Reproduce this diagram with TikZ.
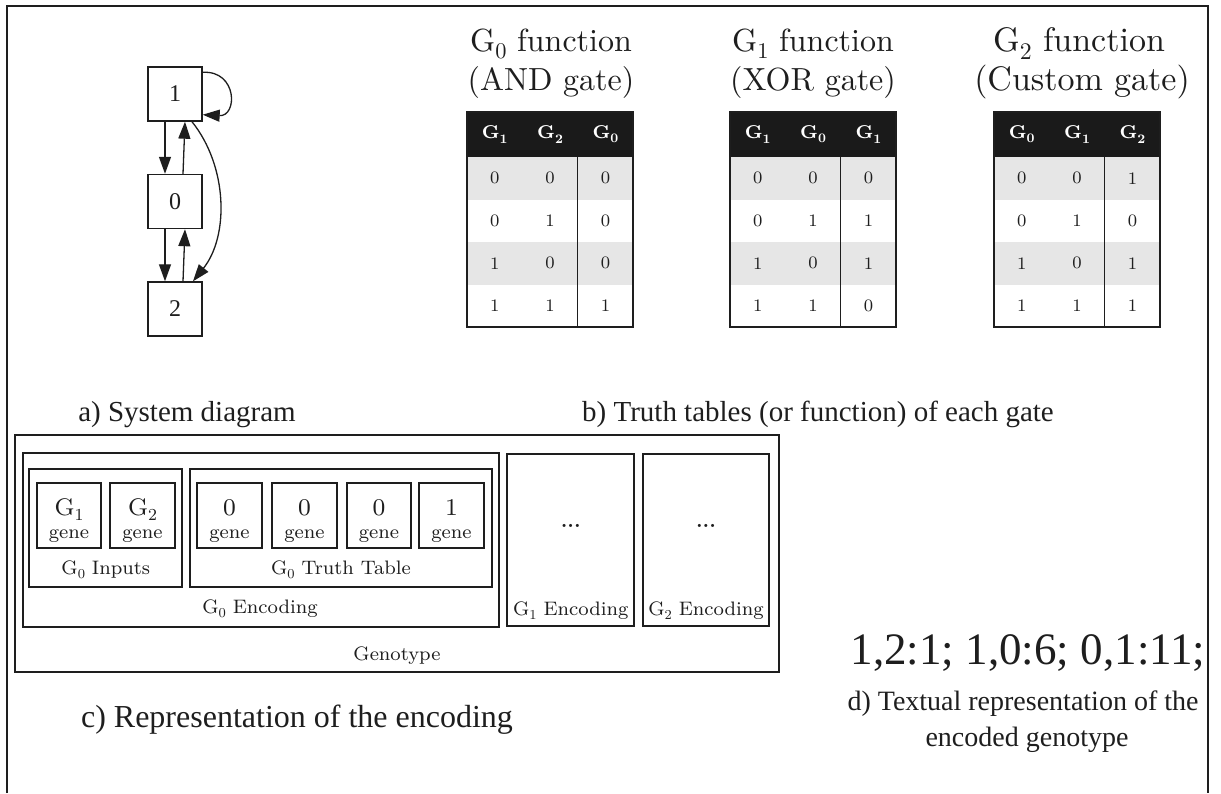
\documentclass[tikz,border=0pt]{standalone}
\usepackage{fontspec}
\usepackage{graphicx}
\setmainfont{lmroman10}[Extension=.otf, UprightFont=*-regular, BoldFont=*-bold,
  ItalicFont=*-italic, BoldItalicFont=*-bolditalic]
\newfontfamily\lmeight{lmroman8}[Extension=.otf, UprightFont=*-regular, BoldFont=*-bold]
\newfontfamily\timesf{Liberation Serif}
\usetikzlibrary{arrows.meta}

\definecolor{ink}{HTML}{1E1E1E}
\definecolor{hdrblack}{HTML}{1A1A1A}
\definecolor{rowgray}{HTML}{E6E6E6}

% lowered, smaller index (text font, no math)
\newcommand\lowsub[1]{\raisebox{-0.22em}{\scalebox{0.7}{#1}}}

\tikzset{
  gbox/.style={draw=ink, line width=1.4pt, minimum size=54pt, inner sep=0pt,
               font=\timesf\fontsize{24}{28}\selectfont, text=ink},
  garrow/.style={draw=ink, line width=1.3pt, -{Triangle[length=17pt,width=12pt]}},
  capt/.style={anchor=base, inner sep=0pt, text=ink, font=\timesf\fontsize{29}{34}\selectfont},
  ttl/.style={anchor=base, inner sep=0pt, text=ink, font=\fontsize{32}{38}\selectfont},
  ttlbig/.style={ttl, font=\fontsize{34}{40}\selectfont},
  hdrtxt/.style={text=white, inner sep=0pt, font=\lmeight\bfseries\fontsize{18.5}{22}\selectfont},
  celltxt/.style={text=ink, inner sep=0pt, font=\lmeight\fontsize{17.5}{21}\selectfont},
  tborder/.style={draw=ink, line width=1.2pt},
  cbox/.style={draw=ink, line width=1.8pt},
  genetop/.style={anchor=base, inner sep=0pt, text=ink, font=\lmeight\fontsize{24}{29}\selectfont},
  genelbl/.style={anchor=base, inner sep=0pt, text=ink, font=\lmeight\fontsize{19.5}{23}\selectfont},
}

% truth table: #1 name, #2 left x, #3 header cells, #4 rows a/b/out
\newcommand\truthtable[4]{%
  \begin{scope}[shift={(#2,0)}]
    \fill[hdrblack] (0,112) rectangle (166,157);
    \fill[rowgray] (0,157) rectangle (166,199.5);
    \fill[rowgray] (0,242) rectangle (166,284.5);
    \foreach \h [count=\c] in {#3}
      \node[hdrtxt] (#1-h\c) at ({(\c-0.5)*55.4},134.5) {\h};
    \foreach \a/\b/\o [count=\r] in {#4} {
      \node[celltxt] (#1-\r-a) at (27.7,{157+(\r-0.5)*42.5}) {\a};
      \node[celltxt] (#1-\r-b) at (83.1,{157+(\r-0.5)*42.5}) {\b};
      \node[celltxt] (#1-\r-o) at (138.5,{157+(\r-0.5)*42.5}) {\o};
    }
    \draw[tborder] (0,112) rectangle (166,327);
    \draw[tborder] (110.8,157) -- (110.8,327);
  \end{scope}}

\begin{document}
\begin{tikzpicture}[x=1pt, y=-1pt]
\useasboundingbox (0,0) rectangle (1221,793);

% outer frame (open at the bottom)
\draw[ink, line width=1.6pt] (7,793) -- (7,6) -- (1208,6) -- (1208,793);

% ---- a) system diagram
\node[gbox] (n1) at (175,94) {1};
\node[gbox] (n0) at (175,201.5) {0};
\node[gbox] (n2) at (175,309) {2};

\draw[garrow] ([xshift=-10pt]n1.south) -- ([xshift=-10pt]n0.north);
\draw[garrow] ([xshift=8pt]n0.north) -- ([xshift=10pt]n1.south);
\draw[garrow] ([xshift=-10pt]n0.south) -- ([xshift=-10pt]n2.north);
\draw[garrow] ([xshift=8pt]n2.north) -- ([xshift=10pt]n0.south);
\draw[garrow] ([yshift=-6pt]n1.north east) .. controls +(35,-2) and +(35,2) .. ([yshift=7pt]n1.south east);
\draw[garrow] ([xshift=17pt]n1.south) .. controls +(36,45) and +(36,-45) .. ([xshift=18pt]n2.north);

\node[capt] (capa) at (187,421) {a) System diagram};

% ---- b) truth tables
\node[ttl] (t0a) at (551,51.7) {G\lowsub{0} function};
\node[ttl] (t0b) at (551,90) {(AND gate)};
\node[ttl] (t1a) at (813,51.7) {G\lowsub{1} function};
\node[ttl] (t1b) at (813,90) {(XOR gate)};
\node[ttlbig] (t2a) at (1079,51.7) {G\lowsub{2} function};
\node[ttlbig] (t2b) at (1082,90) {(Custom gate)};

\truthtable{and}{467}{G\lowsub{1},G\lowsub{2},G\lowsub{0}}{0/0/0,0/1/0,1/0/0,1/1/1}
\truthtable{xor}{730}{G\lowsub{1},G\lowsub{0},G\lowsub{1}}{0/0/0,0/1/1,1/0/1,1/1/0}
\truthtable{cst}{994}{G\lowsub{0},G\lowsub{1},G\lowsub{2}}{0/0/1,0/1/0,1/0/1,1/1/1}

\node[capt] (capb) at (818,421) {b) Truth tables (or function) of each gate};

% ---- c) encoding
\draw[cbox] (15,435) rectangle (779,672);
\draw[cbox] (23,453) rectangle (499,627);
\draw[cbox] (29,469) rectangle (182,587);
\draw[cbox] (190,469) rectangle (492,587);
\draw[cbox] (507,454) rectangle (634,626);
\draw[cbox] (643,454) rectangle (769,626);

\foreach \xl/\xr/\top [count=\i] in {37/101/G\lowsub{1}, 110/175/G\lowsub{2},
    197/262/0, 272/337/0, 347/411/0, 419/484/1} {
  \draw[cbox] (\xl,483) rectangle (\xr,548);
  \node[genetop] (g\i) at ({(\xl+\xr)/2},515) {\top};
  \node[genelbl] (gl\i) at ({(\xl+\xr)/2},538.5) {gene};
}

\node[genelbl] (inp) at (105.8,574) {G\lowsub{0} Inputs};
\node[genelbl] (ttab) at (341,574) {G\lowsub{0} Truth Table};
\node[genelbl] (enc0) at (260,613.5) {G\lowsub{0} Encoding};
\node[genelbl] (dots1) at (570.8,527) {\textbf{...}};
\node[genelbl] (dots2) at (706,527) {\textbf{...}};
\node[genelbl] (enc1) at (570.8,615) {G\lowsub{1} Encoding};
\node[genelbl] (enc2) at (706,615) {G\lowsub{2} Encoding};
\node[genelbl] (geno) at (397,660) {Genotype};

\node[capt, font=\timesf\fontsize{32}{38}\selectfont] (capc) at (297,727) {c) Representation of the encoding};

% ---- d) textual form
\node[capt, font=\timesf\fontsize{45}{52}\selectfont] (txt) at (1028,664) {1,2:1; 1,0:6; 0,1:11;};
\node[capt, font=\timesf\fontsize{28}{33}\selectfont] (capd1) at (1023,710) {d) Textual representation of the};
\node[capt, font=\timesf\fontsize{28}{33}\selectfont] (capd2) at (1027,746) {encoded genotype};
\end{tikzpicture}
\end{document}
